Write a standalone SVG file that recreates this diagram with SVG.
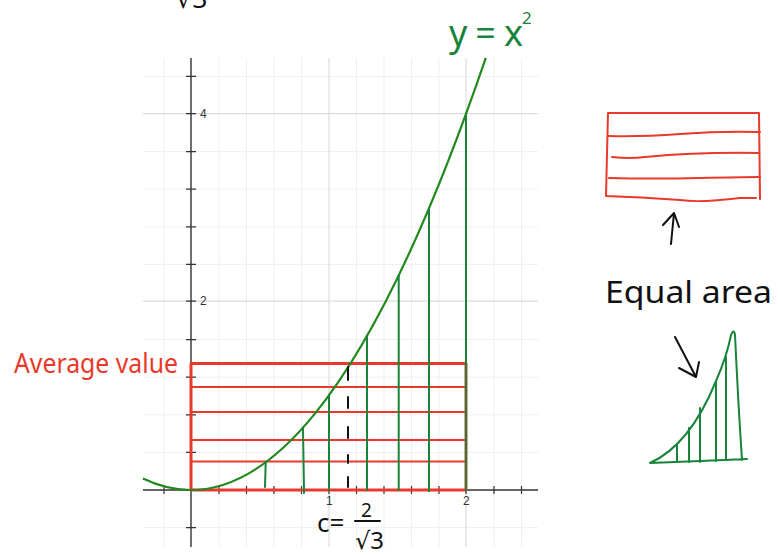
<svg xmlns="http://www.w3.org/2000/svg" width="778" height="555" viewBox="0 0 778 555">
<style>
.minor{stroke:#efefef;stroke-width:1;fill:none}
.major{stroke:#dcdcdc;stroke-width:1.2;fill:none}
.axis{stroke:#333;stroke-width:1.4;fill:none}
.tick{stroke:#333;stroke-width:1.2}
.lbl{font-family:"Liberation Sans",Arial,sans-serif;font-size:12px;fill:#333}
.grn{stroke:#17843a;stroke-width:2;fill:none;stroke-linecap:round}
.curve{stroke:#22891f;stroke-width:2.2;fill:none}
.red{stroke:#e8392b;fill:none;stroke-linecap:round;stroke-linejoin:round}
.ink{stroke:#111;stroke-width:2;fill:none;stroke-linecap:round;stroke-linejoin:round}
.hand{font-family:"Noto Sans","DejaVu Sans",sans-serif;font-weight:normal}
</style>
<rect width="778" height="555" fill="#fff"/>
<g id="grid">
<path class="minor" d="M164 58V547M219 58V547M246.5 58V547M274 58V547M301.5 58V547M356.5 58V547M384 58V547M411.5 58V547M439 58V547M494 58V547M521.5 58V547"/>
<path class="minor" d="M143 527.6H538M143 452.4H538M143 414.8H538M143 377.2H538M143 339.6H538M143 264.4H538M143 226.8H538M143 189.2H538M143 151.6H538M143 76.4H538"/>
<path class="major" d="M329 58V547M466 58V547M143 301.2H538M143 113.6H538"/>
</g>
<g id="axes">
<path class="axis" d="M191 58V547M143 490H538"/>
<path class="tick" d="M186 527.6H196M186 452.4H196M186 414.8H196M186 377.2H196M186 339.6H196M186 301.2H196M186 264.4H196M186 226.8H196M186 189.2H196M186 151.6H196M186 113.6H196M186 76.4H196"/>
<path class="tick" d="M164 486V494M219 486V494M246.5 486V494M274 486V494M301.5 486V494M329 486V494M356.5 486V494M384 486V494M411.5 486V494M439 486V494M466 486V494M494 486V494M521.5 486V494"/>
<text class="lbl" x="200" y="118">4</text>
<text class="lbl" x="200" y="305">2</text>
<text class="lbl" x="326" y="505">1</text>
<text class="lbl" x="463" y="505">2</text>
</g>
<g id="average-rect">
<path class="red" stroke-width="1.8" d="M192 387H465M192 412H465M192 440H465M192 461.5H465"/>
<rect class="red" stroke-width="3" x="191" y="363.5" width="275" height="126.5"/>
</g>
<g id="curve">
<path class="curve" d="M142.9 478.5Q314.3 560.5 485.8 57.9"/>
</g>
<g id="strips">
<path class="grn" d="M265.7 462.3L265 487M303 427.6L304 493M329 395.3V490M367 336V490M398.7 275.5V490M429 208.4V491M466 114V490"/>
</g>
<g id="c-line">
<path class="ink" stroke-width="1.8" d="M348 367V380M348 397V408M348 427V438M348 455V463M348 477V487"/>
</g>
<g id="labels">
<text class="hand" x="176" y="8" font-size="26" fill="#111">√3</text>
<text class="hand" x="449" y="46" font-size="36" fill="#17843a" textLength="74">y=x</text>
<text class="hand" x="522" y="24" font-size="17" fill="#17843a">2</text>
<text class="hand" x="14" y="373" font-size="27" fill="#e8392b" textLength="164" lengthAdjust="spacingAndGlyphs">Average value</text>
<text class="hand" x="317" y="532" font-size="26" fill="#111">c=</text>
<text class="hand" x="361" y="517" font-size="19" fill="#111">2</text>
<path class="ink" stroke-width="1.8" d="M355 521H380"/>
<text class="hand" x="355" y="549" font-size="24" fill="#111">√3</text>
<text class="hand" x="605" y="303" font-size="31" fill="#111" textLength="167" lengthAdjust="spacingAndGlyphs">Equal area</text>
</g>
<g id="equal-rect">
<path class="red" stroke-width="2" d="M608 113H759L760 199M608 113Q607 160 606 196Q640 197 680 200Q700 203 740 198L756 198"/>
<path class="red" stroke-width="2" d="M608 136Q640 137 680 134Q720 131 760 132M612 157Q630 159 645 157Q700 152 759 153M609 178Q650 179 700 178Q740 177 760 177"/>
</g>
<g id="arrow-up">
<path class="ink" d="M671 244L674 213M663 225L674 213L679 227"/>
</g>
<g id="arrow-down">
<path class="ink" d="M675 337L696 377M679 368L696 377L699 362"/>
</g>
<g id="triangle">
<path class="grn" d="M650 463Q690 445 716 381Q727 356 731 335Q734 328 735 335Q738 400 742 460M650 463L700 461L747 459"/>
<path class="grn" stroke-width="1.6" d="M677 445V462M689 428V462M700 408V462M716 382V461M726 357V460"/>
</g>
</svg>
